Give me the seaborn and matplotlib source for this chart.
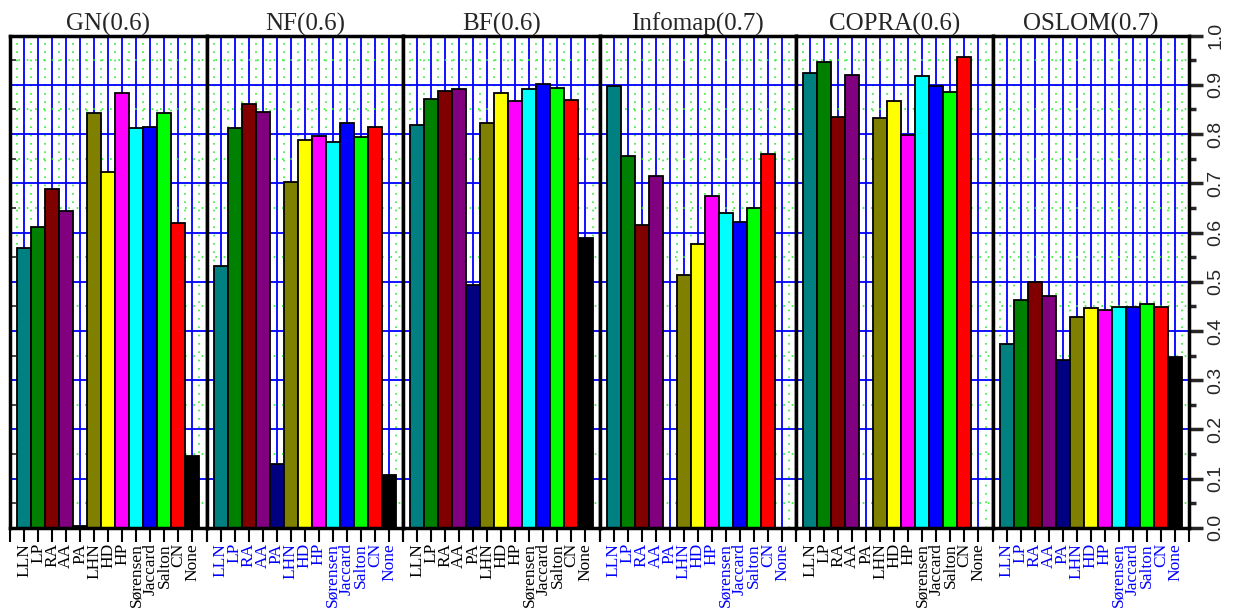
import numpy as np
import pandas as pd
import matplotlib
matplotlib.use("Agg")
import matplotlib.pyplot as plt
import seaborn as sns

methods = ["LLN", "LP", "RA", "AA", "PA", "LHN", "HD", "HP",
           "Sørensen", "Jaccard", "Salton", "CN", "None"]
colors = ["#008080", "#008000", "#800000", "#800080", "#000080", "#808000",
          "#FFFF00", "#FF00FF", "#00FFFF", "#0000FF", "#00FF00", "#FF0000", "#000000"]

panels = ["GN(0.6)", "NF(0.6)", "BF(0.6)", "Infomap(0.7)", "COPRA(0.6)", "OSLOM(0.7)"]
label_colors = ["black", "blue", "black", "blue", "black", "blue"]

gn      = [0.569, 0.612, 0.689, 0.643, 0.003, 0.843, 0.723, 0.883, 0.812, 0.815, 0.843, 0.619, 0.146]
nf      = [0.531, 0.812, 0.861, 0.844, 0.129, 0.702, 0.788, 0.796, 0.783, 0.822, 0.794, 0.814, 0.108]
bf      = [0.819, 0.871, 0.887, 0.892, 0.494, 0.823, 0.884, 0.867, 0.891, 0.901, 0.893, 0.869, 0.588]
infomap = [0.897, 0.756, 0.616, 0.715, 0.000, 0.513, 0.577, 0.675, 0.639, 0.621, 0.649, 0.760, 0.000]
copra   = [0.924, 0.946, 0.835, 0.921, 0.000, 0.832, 0.867, 0.799, 0.918, 0.897, 0.886, 0.957, 0.000]
oslom   = [0.374, 0.462, 0.500, 0.471, 0.340, 0.429, 0.446, 0.443, 0.448, 0.448, 0.455, 0.448, 0.346]

values = [gn, nf, bf, infomap, copra, oslom]
y_ticks = [0.0, 0.1, 0.2, 0.3, 0.4, 0.5, 0.6, 0.7, 0.8, 0.9, 1.0]

sns.set_style("white")
plt.rcParams["font.family"] = ["Liberation Serif", "DejaVu Serif"]

fig, axes = plt.subplots(1, 6, figsize=(12.52, 6.08), dpi=100, sharey=True)
fig.subplots_adjust(left=0.008, right=0.9497, top=0.9413, bottom=0.132, wspace=0)

n = len(methods)
for i, ax in enumerate(axes):
    df = pd.DataFrame({"method": methods, "nmi": values[i]})
    sns.barplot(data=df, x="method", y="nmi", hue="method", palette=colors,
                order=methods, hue_order=methods, dodge=False, legend=False,
                saturation=1.0, width=1.0, edgecolor="black", linewidth=1.3,
                ax=ax, zorder=3)
    ax.set_xlim(-1, n)
    ax.set_ylim(0, 1.0)
    ax.set_xticks(np.arange(-1, n + 1))
    ax.set_xticklabels([""] + methods + [""], rotation=90, fontsize=12.5,
                       color=label_colors[i])
    ax.set_xticks(np.arange(-0.5, n, 1.0), minor=True)
    ax.set_yticks(y_ticks)
    ax.set_yticks(np.arange(0.05, 1.0, 0.1), minor=True)
    ax.set_axisbelow(True)
    ax.grid(which="major", color="blue", linewidth=1.3, zorder=0)
    ax.grid(which="minor", color="#33ee33", linestyle=(0, (1, 4)), linewidth=1.2, zorder=0)
    ax.tick_params(axis="x", which="major", direction="out", length=10, width=1.5,
                   bottom=True, color="black", pad=1)
    ax.tick_params(axis="x", which="minor", length=0)
    ax.tick_params(axis="y", which="both", left=False, right=False,
                   labelleft=False, labelright=False)
    for sp in ax.spines.values():
        sp.set_linewidth(2.5)
        sp.set_color("black")
        sp.set_zorder(5)
    ax.set_xlabel("")
    ax.set_ylabel("")
    ax.set_title(panels[i], fontsize=18, pad=4)

axes[0].tick_params(axis="y", which="minor", left=True, direction="in", length=4, width=1.2)

last = axes[-1]
last.yaxis.set_label_position("right")
last.tick_params(axis="y", which="major", right=True, labelright=True, direction="out",
                 length=10, width=2.5, labelsize=14, pad=3)
last.tick_params(axis="y", which="minor", right=True, direction="out", length=5, width=2.5)
for lab in last.get_yticklabels():
    lab.set_rotation(90)
    lab.set_va("center")
    lab.set_ha("left")
    lab.set_family(["Liberation Sans", "DejaVu Sans"])
last.set_ylabel("NMI", fontsize=18, rotation=90, labelpad=0)

fig.savefig("out.png", dpi=100)
